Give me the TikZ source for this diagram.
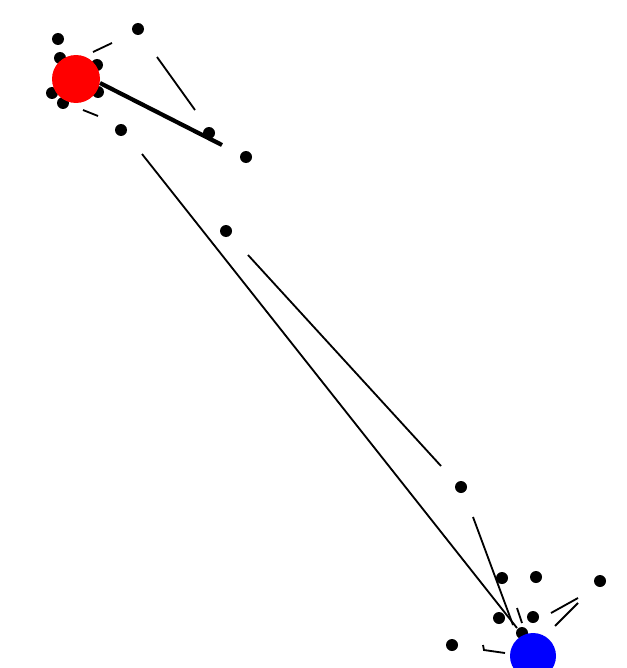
\documentclass[tikz,border=0pt]{standalone}
\usepackage{tikz}
\usetikzlibrary{positioning}

\begin{document}
\begin{tikzpicture}[
  x=0.05cm, y=-0.05cm,
  dot/.style={circle, fill=black, inner sep=0pt, minimum size=0.6cm},
  hub/.style={circle, inner sep=0pt, minimum size=2.4cm},
  link/.style={black, line width=2.6pt},
  heavy/.style={black, line width=6pt}
]
\useasboundingbox[fill=white] (0,0) rectangle (626,668);

% Points
\foreach \n/\x/\y in {a/58/39, b/138/29, c/121/130, d/246/157, e/209/133,
  f/226/231, g/461/487, h/502/578, i/536/577, j/600/581, k/499/618,
  l/533/617, m/452/645, r1/60/58, r2/97/65, r3/52/93, r4/63/103, r5/98/92,
  q1/522/633} {
  \node[dot] (\n) at (\x,\y) {};
}

% Free ends
\coordinate (s1a) at (93,52);   \coordinate (s1b) at (112,43);
\coordinate (s2a) at (157,57);  \coordinate (s2b) at (195,110);
\coordinate (s3a) at (83,110);  \coordinate (s3b) at (98,116);
\coordinate (t1) at (222,145);  \coordinate (t0) at (100,83);
\coordinate (l1a) at (142,154); \coordinate (l1b) at (517,628);
\coordinate (l2a) at (248,255); \coordinate (l2b) at (441,466);
\coordinate (l3a) at (473,517); \coordinate (l3b) at (513,625);
\coordinate (l4a) at (517,608); \coordinate (l4b) at (522,623);
\coordinate (v1a) at (555,626); \coordinate (v1b) at (578,603);
\coordinate (v2a) at (551,613); \coordinate (v2b) at (578,598);
\coordinate (w1) at (483,645);  \coordinate (w2) at (484,650);
\coordinate (w3) at (505,653);

% Segments
\draw[link] (s1a) -- (s1b);
\draw[link] (s2a) -- (s2b);
\draw[link] (s3a) -- (s3b);
\draw[heavy] (t0) -- (t1);
\draw[link] (l1a) -- (l1b);
\draw[link] (l2a) -- (l2b);
\draw[link] (l3a) -- (l3b);
\draw[link] (l4a) -- (l4b);
\draw[link] (v1a) -- (v1b);
\draw[link] (v2a) -- (v2b);
\draw[link] (w1) -- (w2) -- (w3);

% Hubs
\node[hub, fill=red] (src) at (76,79) {};
\node[hub, fill=blue, minimum size=2.3cm] (dst) at (533,656) {};
\end{tikzpicture}
\end{document}
